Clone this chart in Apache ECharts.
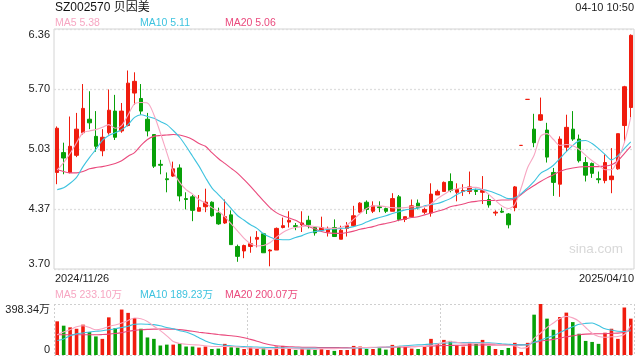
<!DOCTYPE html>
<html><head><meta charset="utf-8">
<script src="https://cdn.jsdelivr.net/npm/echarts@6/dist/echarts.min.js"></script>
<style>html,body{margin:0;padding:0;background:#fff}#c{width:640px;height:360px}</style>
</head><body><div id="c"></div>
<script>
var stockTitle = 'SZ002570 贝因美';
var timeText = '04-10 10:50';
var dates = ['2024/11/26','2024/11/27','2024/11/28','2024/11/29',
'2024/12/02','2024/12/03','2024/12/04','2024/12/05','2024/12/06',
'2024/12/09','2024/12/10','2024/12/11','2024/12/12','2024/12/13',
'2024/12/16','2024/12/17','2024/12/18','2024/12/19','2024/12/20',
'2024/12/23','2024/12/24','2024/12/25','2024/12/26','2024/12/27',
'2024/12/30','2024/12/31',
'2025/01/02','2025/01/03',
'2025/01/06','2025/01/07','2025/01/08','2025/01/09','2025/01/10',
'2025/01/13','2025/01/14','2025/01/15','2025/01/16','2025/01/17',
'2025/01/20','2025/01/21','2025/01/22','2025/01/23','2025/01/24',
'2025/01/27',
'2025/02/05','2025/02/06','2025/02/07',
'2025/02/10','2025/02/11','2025/02/12','2025/02/13','2025/02/14',
'2025/02/17','2025/02/18','2025/02/19','2025/02/20','2025/02/21',
'2025/02/24','2025/02/25','2025/02/26','2025/02/27','2025/02/28',
'2025/03/03','2025/03/04','2025/03/05','2025/03/06','2025/03/07',
'2025/03/10','2025/03/11','2025/03/12','2025/03/13','2025/03/14',
'2025/03/17','2025/03/18','2025/03/19','2025/03/20','2025/03/21',
'2025/03/24','2025/03/25','2025/03/26','2025/03/27','2025/03/28',
'2025/03/31',
'2025/04/01','2025/04/02','2025/04/03',
'2025/04/07','2025/04/08','2025/04/09','2025/04/10'];

var open  = [4.77,4.99,4.77,4.96,5.21,5.36,5.17,5.01,5.21,5.45,5.23,5.29,5.65,5.59,5.36,5.19,4.86,4.70,4.73,4.82,
4.48,4.50,4.34,4.39,4.44,4.32,4.21,4.30,3.95,3.90,3.95,4.03,4.09,3.90,3.91,4.16,4.22,4.18,4.19,4.24,
4.16,4.13,4.11,4.16,4.03,4.15,4.18,4.33,4.44,4.34,4.39,4.37,4.34,4.50,4.25,4.28,4.43,4.33,4.32,4.52,
4.56,4.67,4.55,4.56,4.56,4.57,4.55,4.47,4.32,4.34,4.31,4.38,5.07,5.58,5.25,5.35,5.24,4.77,4.64,5.05,
5.25,5.14,4.88,4.87,4.70,4.68,4.69,4.81,5.29,5.49];
var close = [5.26,4.93,5.06,5.25,5.48,5.32,5.06,5.16,5.46,5.16,5.45,5.76,5.78,5.45,5.23,4.84,4.85,4.69,4.81,4.51,
4.47,4.35,4.38,4.44,4.29,4.20,4.28,3.97,3.84,3.96,3.98,4.05,3.88,3.91,4.15,4.18,4.24,4.17,4.21,4.19,
4.10,4.16,4.15,4.06,4.13,4.18,4.29,4.43,4.36,4.40,4.38,4.34,4.48,4.25,4.28,4.40,4.38,4.36,4.53,4.56,
4.66,4.57,4.58,4.57,4.61,4.56,4.57,4.41,4.33,4.33,4.19,4.61,5.07,5.58,5.10,5.41,4.94,4.66,5.14,5.27,
5.14,4.90,4.74,4.76,4.69,4.88,4.73,5.20,5.72,6.29];
var low   = [4.64,4.75,4.76,4.94,5.19,5.25,5.00,4.95,5.19,5.13,5.21,5.28,5.52,5.41,5.17,4.82,4.75,4.55,4.72,4.45,
4.36,4.23,4.34,4.33,4.28,4.19,4.20,3.97,3.78,3.82,3.88,3.94,3.88,3.73,3.91,4.15,4.16,4.13,4.11,4.15,
4.07,4.12,4.06,4.06,4.03,4.06,4.17,4.32,4.31,4.32,4.33,4.32,4.34,4.23,4.22,4.28,4.36,4.31,4.28,4.52,
4.56,4.55,4.45,4.51,4.53,4.52,4.42,4.38,4.29,4.32,4.15,4.34,5.07,5.58,5.05,5.34,4.88,4.51,4.50,5.00,
5.12,4.88,4.67,4.71,4.65,4.65,4.54,4.80,5.10,5.38];
var high  = [5.28,5.10,5.39,5.43,5.75,5.67,5.45,5.25,5.69,5.63,5.54,5.90,5.88,5.75,5.43,5.19,4.91,4.77,4.89,4.86,
4.55,4.52,4.52,4.59,4.45,4.38,4.47,4.35,3.97,3.97,4.06,4.12,4.10,3.92,4.16,4.27,4.34,4.21,4.34,4.29,
4.17,4.28,4.17,4.25,4.18,4.22,4.40,4.44,4.46,4.45,4.45,4.38,4.54,4.52,4.28,4.47,4.47,4.38,4.65,4.58,
4.67,4.76,4.65,4.64,4.78,4.59,4.73,4.53,4.35,4.38,4.32,4.62,5.07,5.58,5.42,5.60,5.32,4.82,5.17,5.41,
5.45,5.19,4.94,4.88,4.78,4.97,5.04,5.20,5.73,6.30];

var ma5  = [4.80,4.88,4.98,5.10,5.21,5.23,5.245,5.27,5.30,5.26,5.29,5.41,5.53,5.545,5.54,5.41,5.21,4.99,4.78,4.66,
4.58,4.53,4.47,4.43,4.38,4.34,4.28,4.20,4.12,4.04,3.98,3.955,3.96,3.99,4.05,4.105,4.14,4.16,4.17,4.18,
4.17,4.16,4.15,4.15,4.16,4.19,4.25,4.315,4.37,4.40,4.40,4.39,4.38,4.375,4.38,4.39,4.39,4.39,4.42,4.48,
4.525,4.57,4.59,4.60,4.605,4.605,4.58,4.525,4.46,4.40,4.37,4.415,4.60,4.825,4.96,5.17,5.20,5.135,5.07,5.08,
5.065,5.025,4.96,4.90,4.85,4.80,4.80,4.91,5.10,5.38];
var ma10 = [4.58,4.60,4.65,4.715,4.835,4.935,5.025,5.125,5.18,5.21,5.245,5.30,5.38,5.41,5.39,5.37,5.335,5.30,5.235,5.16,
5.06,4.95,4.84,4.715,4.60,4.525,4.45,4.37,4.29,4.24,4.19,4.15,4.09,4.055,4.03,4.025,4.025,4.05,4.07,4.10,
4.115,4.125,4.14,4.145,4.15,4.155,4.17,4.19,4.22,4.25,4.27,4.29,4.315,4.335,4.355,4.365,4.375,4.40,4.415,4.425,
4.45,4.48,4.525,4.56,4.575,4.585,4.58,4.565,4.54,4.51,4.48,4.49,4.535,4.60,4.67,4.76,4.80,4.85,4.925,5.00,
5.07,5.12,5.125,5.09,5.035,4.97,4.91,4.955,5.035,5.11];
var ma20 = [4.80,4.78,4.765,4.765,4.78,4.81,4.825,4.835,4.85,4.87,4.90,4.95,4.99,5.07,5.135,5.17,5.18,5.185,5.19,5.185,
5.165,5.135,5.09,5.06,4.99,4.925,4.87,4.815,4.76,4.69,4.615,4.535,4.455,4.38,4.325,4.29,4.265,4.24,4.20,4.17,
4.145,4.115,4.10,4.095,4.095,4.105,4.12,4.14,4.155,4.17,4.19,4.205,4.22,4.24,4.255,4.27,4.28,4.30,4.32,4.34,
4.36,4.39,4.405,4.42,4.44,4.45,4.46,4.46,4.46,4.465,4.465,4.475,4.525,4.58,4.625,4.67,4.71,4.745,4.78,4.805,
4.82,4.83,4.835,4.835,4.835,4.84,4.855,4.90,4.98,5.06];

var volume = [263,229,216,205,237,179,145,126,294,210,355,329,289,205,137,126,74,81,81,92,
66,66,58,66,47,50,87,60,58,47,58,47,53,39,66,71,53,39,50,47,
39,45,39,32,39,39,71,66,47,47,53,42,79,71,71,50,47,66,126,87,
118,110,76,66,102,87,118,71,47,39,55,95,24,95,315,398.34,284,197,297,331,
257,166,110,102,87,174,205,126,371,284];
var vma5  = [158,180,197,220,229,215,197,205,223,235,250,270,289,283,262,225,190,150,105,90,
84,80,78,72,66,66,66,66,62,58,55,52,48,47,50,53,52,48,47,45,
45,50,50,50,52,53,55,58,58,60,62,62,62,64,66,66,66,66,72,85,
98,105,100,92,92,92,92,90,85,79,75,70,53,60,130,170,215,250,285,302,
290,262,215,170,145,139,142,145,160,233.10];
var vma10 = [113,125,150,165,172,180,185,190,197,205,215,225,240,242,240,237,228,215,205,190,
180,160,135,110,92,82,76,72,68,66,64,62,60,58,57,56,55,54,53,53,
53,53,53,53,53,53,54,55,56,58,60,62,65,68,72,76,79,82,85,90,
93,95,97,97,97,97,96,95,92,88,84,80,79,79,100,115,135,150,175,200,
220,240,247,250,230,205,195,185,184,189.23];
var vma20 = [158,158,158,158,158,158,158,160,163,168,175,185,192,197,200,202,202,202,202,198,
192,185,178,172,166,160,155,150,145,135,122,108,92,80,72,68,65,63,61,60,
60,58,58,58,58,58,58,58,58,58,59,60,61,62,63,64,66,68,70,72,
74,75,76,77,78,78,79,79,79,79,79,79,79,82,98,108,115,122,132,142,
150,158,163,165,166,167,169,171,180,200.07];

var priceTicks = ['3.70','4.37','5.03','5.70','6.36'];
var priceMin = 3.70, priceMax = 6.36, priceStep = 0.665;
var volUnit = '万';

var RED = '#f01c0e', GREEN = '#08a008';
var C5 = '#f7a6c2', C10 = '#3ec3df', C20 = '#ea4a7d';
var FONT = '"Liberation Sans", Arial, "Noto Sans CJK SC", sans-serif';

var kData = open.map(function (o, i) { return [o, close[i], low[i], high[i]]; });
var volData = volume.map(function (v, i) {
  var up = close[i] > open[i] || (close[i] === open[i] && (i === 0 || close[i] >= close[i - 1]));
  return { value: v, itemStyle: { color: up ? RED : GREEN } };
});
var volMax = Math.max.apply(null, volume);
var last = dates.length - 1;

function txt(x, y, s, color, size, align) {
  return { type: 'text', x: x, y: y, silent: true,
    style: { text: s, fill: color, fontSize: size, fontFamily: FONT, align: align || 'left', verticalAlign: 'middle' } };
}

var chart = echarts.init(document.getElementById('c'), null, { renderer: 'canvas' });
chart.setOption({
  animation: false,
  backgroundColor: '#fff',
  grid: [
    { left: 54, top: 29, width: 580, height: 240, show: true, borderColor: '#d4d4d4', borderWidth: 1 },
    { left: 54, top: 304, width: 580, height: 51 }
  ],
  xAxis: [
    { type: 'category', gridIndex: 0, data: dates, boundaryGap: true,
      axisLine: { show: false }, axisTick: { show: false }, axisLabel: { show: false }, splitLine: { show: false } },
    { type: 'category', gridIndex: 1, data: dates, boundaryGap: true,
      axisLine: { show: false }, axisTick: { show: false }, axisLabel: { show: false }, splitLine: { show: false } },
    { type: 'value', gridIndex: 1, position: 'top', min: 0, max: 3, interval: 1,
      axisLine: { show: false }, axisTick: { show: false }, axisLabel: { show: false },
      splitLine: { show: true, lineStyle: { color: '#cfcfcf', type: [2, 2], width: 1 } } }
  ],
  yAxis: [
    { type: 'value', gridIndex: 0, min: priceMin, max: priceMax, interval: priceStep,
      axisLine: { show: false }, axisTick: { show: false },
      axisLabel: { color: '#222', fontSize: 11, fontFamily: FONT, margin: 4,
        verticalAlignMaxLabel: 'top', verticalAlignMinLabel: 'bottom',
        formatter: function (v) { return priceTicks[Math.round((v - priceMin) / priceStep)]; } },
      splitLine: { show: true, lineStyle: { color: '#dedede', type: [2, 2], width: 1.3 } } },
    { type: 'value', gridIndex: 1, min: 0, max: volMax, interval: volMax,
      axisLine: { show: false }, axisTick: { show: false },
      axisLabel: { color: '#222', fontSize: 11, fontFamily: FONT, margin: 4,
        verticalAlignMaxLabel: 'top', verticalAlignMinLabel: 'bottom',
        formatter: function (v) { return v === 0 ? '0' : v.toFixed(2) + volUnit; } },
      splitLine: { show: true, lineStyle: { color: '#cfcfcf', type: [2, 2], width: 1 } } }
  ],
  series: [
    { type: 'candlestick', xAxisIndex: 0, yAxisIndex: 0, data: kData, barWidth: 4,
      itemStyle: { color: RED, color0: GREEN, borderColor: RED, borderColor0: GREEN, borderWidth: 1 } },
    { type: 'line', xAxisIndex: 0, yAxisIndex: 0, data: ma20, symbol: 'none', smooth: 0.3, lineStyle: { color: C20, width: 1.1 } },
    { type: 'line', xAxisIndex: 0, yAxisIndex: 0, data: ma10, symbol: 'none', smooth: 0.3, lineStyle: { color: C10, width: 1.1 } },
    { type: 'line', xAxisIndex: 0, yAxisIndex: 0, data: ma5, symbol: 'none', smooth: 0.3, lineStyle: { color: C5, width: 1.1 } },
    { type: 'bar', xAxisIndex: 1, yAxisIndex: 1, data: volData, barWidth: 3.6 },
    { type: 'line', xAxisIndex: 1, yAxisIndex: 1, data: vma20, symbol: 'none', smooth: 0.3, lineStyle: { color: C20, width: 1.1 } },
    { type: 'line', xAxisIndex: 1, yAxisIndex: 1, data: vma10, symbol: 'none', smooth: 0.3, lineStyle: { color: C10, width: 1.1 } },
    { type: 'line', xAxisIndex: 1, yAxisIndex: 1, data: vma5, symbol: 'none', smooth: 0.3, lineStyle: { color: C5, width: 1.1 } }
  ],
  graphic: [
    txt(55, 8, stockTitle, '#111', 12),
    txt(634, 8, timeText, '#222', 11, 'right'),
    txt(55, 23.5, 'MA5 ' + ma5[last].toFixed(2), C5, 10.5),
    txt(140, 23.5, 'MA10 ' + ma10[last].toFixed(2), C10, 10.5),
    txt(225, 23.5, 'MA20 ' + ma20[last].toFixed(2), C20, 10.5),
    txt(55, 278.5, dates[0], '#222', 11),
    txt(634, 278.5, dates[last], '#222', 11, 'right'),
    txt(623, 249, 'sina.com', '#d8d8d8', 13.5, 'right'),
    txt(55, 295, 'MA5 ' + vma5[last].toFixed(2) + volUnit, C5, 10.5),
    txt(140, 295, 'MA10 ' + vma10[last].toFixed(2) + volUnit, C10, 10.5),
    txt(225, 295, 'MA20 ' + vma20[last].toFixed(2) + volUnit, C20, 10.5)
  ]
});
</script>
</body></html>
